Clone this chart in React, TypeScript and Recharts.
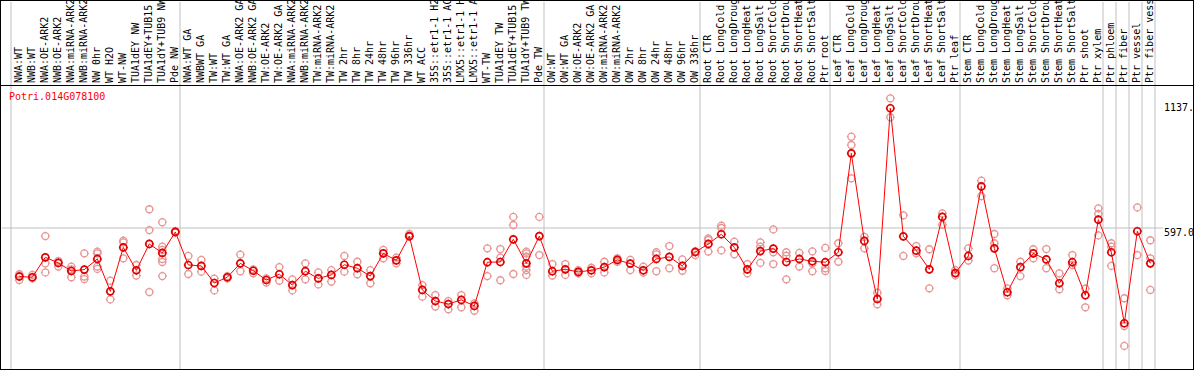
import { ScatterChart, Scatter, XAxis, YAxis, ReferenceLine } from "recharts";

// Expression profile of one poplar gene across sample conditions.
// Means are joined by the red line, single replicates are the pale rings.

const geneId = "Potri.014G078100";

const categories = [
  "NWA:WT", "NWB:WT", "NWA:OE-ARK2", "NWB:OE-ARK2", "NWA:miRNA-ARK2", "NWB:miRNA-ARK2",
  "NW 0hr", "WT H2O", "WT-NW", "TUA1dEY NW", "TUA1dEY+TUB15 NW", "TUA1dY+TUB9 NW", "Pde NW",
  "NWA:WT GA", "NWBWT GA", "TW:WT", "TW:WT GA", "NWA:OE-ARK2 GA", "NWB:OE-ARK2 GA",
  "TW:OE-ARK2", "TW:OE-ARK2 GA", "NWA:miRNA-ARK2 GA", "NWB:miRNA-ARK2 GA", "TW:miRNA-ARK2",
  "TW:miRNA-ARK2 GA", "TW 2hr", "TW 8hr", "TW 24hr", "TW 48hr", "TW 96hr", "TW 336hr",
  "WT ACC", "35S::etr1-1 H2O", "35S::etr1-1 ACC", "LMX5::etr1-1 H2O", "LMX5::etr1-1 ACC",
  "WT-TW", "TUA1dEY TW", "TUA1dEY+TUB15 TW", "TUA1dY+TUB9 TW", "Pde TW",
  "OW:WT", "OW:WT GA", "OW:OE-ARK2", "OW:OE-ARK2 GA", "OW:miRNA-ARK2", "OW:miRNA-ARK2 GA",
  "OW 2hr", "OW 8hr", "OW 24hr", "OW 48hr", "OW 96hr", "OW 336hr",
  "Root CTR", "Root LongCold", "Root LongDrought", "Root LongHeat", "Root LongSalt",
  "Root ShortCold", "Root ShortDrought", "Root ShortHeat", "Root ShortSalt", "Ptr root",
  "Leaf CTR", "Leaf LongCold", "Leaf LongDrought", "Leaf LongHeat", "Leaf LongSalt",
  "Leaf ShortCold", "Leaf ShortDrought", "Leaf ShortHeat", "Leaf ShortSalt", "Ptr leaf",
  "Stem CTR", "Stem LongCold", "Stem LongDrought", "Stem LongHeat", "Stem LongSalt",
  "Stem ShortCold", "Stem ShortDrought", "Stem ShortHeat", "Stem ShortSalt", "Ptr shoot",
  "Ptr xylem", "Ptr phloem", "Ptr fiber", "Ptr vessel", "Ptr fiber vessel",
];

const means = [
  387, 384, 470, 446, 411, 417, 463, 323, 513, 414,
  528, 489, 580, 437, 433, 359, 384, 444, 412, 372,
  397, 350, 410, 379, 394, 438, 423, 389, 487, 457,
  562, 329, 281, 268, 286, 260, 449, 450, 548, 444,
  562, 410, 418, 407, 414, 428, 459, 443, 414, 463,
  472, 433, 493, 528, 570, 513, 418, 497, 508, 450,
  463, 453, 449, 492, 920, 541, 290, 1115, 561, 499,
  418, 645, 402, 476, 777, 509, 319, 428, 487, 461,
  358, 449, 306, 633, 492, 185, 583, 444,
];

const replicates = [
  [397, 372, 390], [394, 379], [562, 444, 405], [454, 430], [430, 418, 384],
  [487, 387, 376], [495, 487, 430, 420], [369, 288], [542, 535, 466], [437, 391],
  [678, 588, 320], [622, 516, 502, 463, 450, 389], [583, 577], [476, 398], [459, 408],
  [378, 327], [389, 379], [482, 410], [418, 401], [379, 361],
  [428, 369], [375, 327], [444, 375], [405, 353], [415, 365],
  [476, 408], [451, 397], [415, 358], [502, 466], [469, 444],
  [571, 560], [350, 300], [307, 257], [281, 245], [307, 254],
  [271, 239], [509, 389], [506, 469, 371], [645, 610, 398], [495, 487, 473, 430, 415, 394],
  [645, 480], [441, 391], [441, 394], [415, 401], [425, 401],
  [451, 405], [466, 451], [459, 415], [430, 404], [492, 483, 410],
  [519, 423], [461, 412], [497, 480], [552, 545, 495], [607, 597, 500],
  [538, 483], [441, 401], [535, 516, 446], [591, 492, 441], [492, 477, 375],
  [489, 430], [496, 444, 410], [511, 423, 411], [531, 451], [992, 956, 812],
  [559, 509], [317, 267], [1158, 1076], [652, 476], [519, 487],
  [505, 336], [660, 611], [415, 392], [509, 456], [802, 735],
  [571, 531, 423], [336, 306], [451, 389], [505, 466], [506, 423],
  [401, 332], [480, 437], [335, 254], [682, 658, 565], [531, 516, 433],
  [293, 173, 87], [686, 480], [544, 466, 329],
];

// first category index of each sample group (plus the end)
const groupStarts = [0, 13, 41, 53, 63, 73, 84, 85, 86, 87, 88];
const valueTicks = [0, 597, 1137];
const gridValue = 597;

const POINT_OFFSET = 0.64;
const FONT = "'DejaVu Sans Mono', monospace";

const meanData = means.map((v, i) => ({ x: i + POINT_OFFSET, y: v }));
const repData = replicates.flatMap((reps, i) =>
  reps.map((v) => ({ x: i + POINT_OFFSET, y: v }))
);
const xTicks = categories.map((_, i) => i + POINT_OFFSET);

function ring(color: string, width: number) {
  return (props: any) => {
    const { cx, cy } = props;
    const r = 3.5;
    const d =
      `M${cx - r - 1},${cy}h1.6M${cx + r - 0.6},${cy}h1.6` +
      `M${cx},${cy - r - 1}v1.6M${cx},${cy + r - 0.6}v1.6`;
    return (
      <g>
        <circle cx={cx} cy={cy} r={r} fill="none" stroke={color} strokeWidth={width} />
        <path d={d} stroke={color} strokeWidth={1} />
      </g>
    );
  };
}

function CategoryTick({ x, payload }: any) {
  const idx = Math.round(payload.value - POINT_OFFSET);
  return (
    <text
      transform={`translate(${x + 2.3},82) rotate(-90)`}
      fontSize={10}
      fontFamily={FONT}
      fill="#000"
      textAnchor="start"
    >
      {categories[idx]}
    </text>
  );
}

function ValueTick({ x, y, payload }: any) {
  const v = payload.value as number;
  return (
    <text x={x + 1} y={Math.min(y + 8, 364)} fontSize={10} fontFamily={FONT} fill="#000">
      {v === 0 ? "0" : v.toFixed(1)}
    </text>
  );
}

export default function App() {
  return (
    <div
      style={{
        position: "relative",
        width: 1194,
        height: 370,
        border: "1px solid #000",
        boxSizing: "border-box",
        background: "#fff",
      }}
    >
      <style>{"body{margin:0}"}</style>
      <ScatterChart width={1192} height={368} margin={{ top: 0, right: 0, bottom: 0, left: 1 }}>
        <XAxis
          type="number"
          dataKey="x"
          orientation="top"
          height={1}
          domain={[-9 / 13, 1152 / 13]}
          allowDataOverflow
          ticks={xTicks}
          interval={0}
          axisLine={false}
          tickLine={false}
          tick={<CategoryTick />}
        />
        <YAxis
          type="number"
          dataKey="y"
          orientation="right"
          width={30}
          domain={[-13, 1574.7]}
          allowDataOverflow
          ticks={valueTicks}
          axisLine={false}
          tickLine={false}
          tickSize={0}
          tickMargin={0}
          tick={<ValueTick />}
        />
        {groupStarts.map((g) => (
          <ReferenceLine key={g} x={g} stroke="#c0c0c0" strokeWidth={1} />
        ))}
        <ReferenceLine y={gridValue} stroke="#c0c0c0" strokeWidth={1} />
        <Scatter
          data={repData}
          shape={ring("#e89595", 1.3)}
          isAnimationActive={false}
        />
        <Scatter
          data={meanData}
          line={{ stroke: "#ff0000", strokeWidth: 1 }}
          lineType="joint"
          shape={ring("#e00000", 1.7)}
          isAnimationActive={false}
        />
      </ScatterChart>
      <div style={{ position: "absolute", left: 0, right: 0, top: 84, height: 1, background: "#000" }} />
      <div
        style={{
          position: "absolute",
          left: 8,
          top: 90,
          fontFamily: FONT,
          fontSize: 10,
          lineHeight: "12px",
          color: "#ff0000",
        }}
      >
        {geneId}
      </div>
    </div>
  );
}
